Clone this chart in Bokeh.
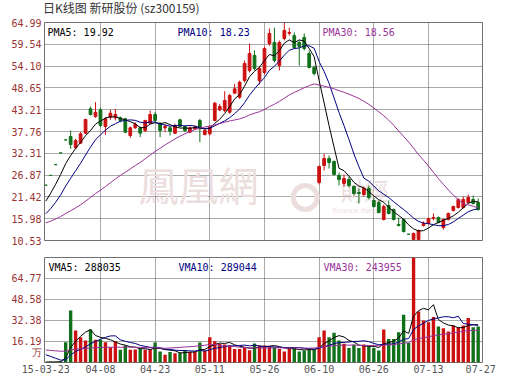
import numpy as np
from bokeh.plotting import figure
from bokeh.layouts import column
from bokeh.models import FixedTicker, Label, Range1d, CustomJSTickFormatter, ColumnDataSource, Div
from bokeh.core.properties import value
from bokeh.embed import file_html
from bokeh.resources import INLINE

# ---------------- data ----------------
x_tick_labels = ["15-03-23", "04-08", "04-23", "05-11", "05-26", "06-10", "06-26", "07-13", "07-27"]
x_tick_pos = [0, 11, 22, 33, 44, 55, 66, 77, 87.5]
price_ticks = [10.53, 15.98, 21.42, 26.87, 32.31, 37.76, 43.21, 48.65, 54.10, 59.54, 64.99]
vol_ticks = [16.19, 32.38, 48.58, 64.77]

# trading days before the window (needed for the moving averages)
pre_close = [13.62, 13.70, 13.75, 13.68, 13.80, 13.85, 13.77, 13.72, 13.81, 13.90,
             13.86, 13.79, 13.74, 13.83, 13.88, 13.80, 13.76, 13.84, 13.91, 13.87,
             13.82, 13.78, 13.85, 13.79, 15.17, 16.69, 18.36, 20.20, 22.22]
pre_vol = [10.5, 9.8, 11.2, 12.0, 10.1, 9.5, 11.8, 12.6, 10.9, 11.4,
           12.2, 10.7, 11.9, 13.1, 12.4, 11.0, 10.3, 12.8, 13.5, 12.1,
           13.8, 14.5, 15.2, 14.1, 0.3, 0.3, 0.4, 0.3, 0.4]

open_ = [24.35, 26.79, 29.47, 32.42, 35.66, 36.51, 33.68, 34.85, 37.34, 43.42,
         41.51, 43.17, 39.01, 41.34, 41.17, 41.17, 40.93, 36.76, 38.68, 38.68,
         38.01, 39.84, 42.01, 39.84, 38.68, 38.68, 37.34, 40.68, 39.01, 37.59,
         38.43, 40.51, 37.01, 37.18, 40.51, 43.17, 43.01, 42.59, 47.34, 46.34,
         50.50, 52.98, 56.75, 50.50, 52.50, 59.75, 60.00, 54.25, 61.00, 62.30,
         61.70, 60.00, 61.25, 57.25, 53.75, 25.02, 29.27, 31.02, 30.27, 26.77,
         24.77, 25.77, 24.02, 22.52, 22.02, 23.52, 20.52, 20.02, 15.78, 19.27,
         18.27, 14.53, 15.78, 12.10, 10.78, 10.78, 14.28, 14.78, 16.03, 16.28,
         13.78, 15.78, 18.03, 18.77, 18.77, 20.02, 20.77, 20.02]
high = [24.35, 26.79, 29.47, 32.42, 35.66, 38.01, 35.93, 37.59, 40.93, 44.00,
        45.09, 43.67, 41.34, 43.17, 43.42, 41.51, 41.17, 39.01, 40.09, 39.01,
        40.68, 43.00, 42.59, 40.09, 39.68, 39.01, 39.68, 40.93, 39.26, 39.01,
        39.26, 40.93, 38.43, 39.26, 45.09, 44.67, 47.84, 47.17, 49.67, 50.50,
        55.50, 59.75, 58.00, 54.00, 59.00, 63.50, 63.70, 60.50, 64.99, 63.70,
        62.50, 60.50, 62.25, 58.00, 54.25, 29.27, 32.26, 31.77, 30.52, 27.52,
        27.02, 26.52, 24.27, 23.52, 24.02, 24.27, 21.27, 20.52, 19.52, 20.52,
        18.52, 16.28, 16.03, 12.10, 12.53, 13.28, 15.28, 16.28, 17.28, 16.53,
        16.03, 17.53, 19.27, 21.02, 21.52, 22.02, 21.77, 21.02]
low = [24.35, 26.79, 29.47, 32.42, 35.66, 33.43, 33.43, 34.68, 37.18, 41.76,
       41.17, 38.84, 36.93, 40.68, 40.51, 40.09, 37.34, 36.18, 38.43, 36.35,
       37.59, 39.68, 40.09, 36.35, 37.59, 36.76, 37.18, 38.84, 37.59, 37.34,
       38.18, 35.09, 36.76, 36.76, 40.34, 42.84, 42.59, 42.17, 47.17, 45.92,
       50.00, 52.50, 53.00, 49.50, 52.00, 59.20, 55.00, 53.00, 60.50, 61.70,
       58.50, 54.25, 58.00, 53.50, 51.75, 24.52, 28.02, 28.52, 26.77, 24.27,
       24.02, 23.77, 21.77, 19.77, 21.52, 20.77, 18.77, 17.28, 15.53, 17.03,
       15.53, 14.03, 12.53, 12.10, 10.53, 10.60, 14.03, 14.53, 15.53, 14.78,
       13.28, 15.53, 17.78, 18.52, 18.52, 19.77, 19.52, 18.03]
close = [24.35, 26.79, 29.47, 32.42, 35.66, 34.51, 35.51, 37.18, 40.76, 42.01,
         42.59, 39.26, 40.93, 42.34, 42.01, 40.51, 37.59, 38.68, 39.51, 37.34,
         40.51, 42.01, 40.51, 38.01, 39.01, 37.84, 39.26, 39.01, 38.01, 38.68,
         38.84, 38.43, 38.01, 38.84, 44.84, 44.00, 45.51, 46.76, 48.42, 50.08,
         54.75, 57.25, 53.50, 53.50, 58.50, 62.25, 55.50, 60.00, 63.00, 62.50,
         58.70, 59.00, 58.50, 53.75, 52.25, 29.02, 31.02, 30.02, 27.02, 25.77,
         26.02, 24.27, 22.27, 22.27, 23.52, 21.27, 19.02, 17.53, 19.02, 17.28,
         15.78, 14.28, 12.78, 12.10, 12.28, 13.03, 14.78, 16.03, 16.28, 15.03,
         15.78, 17.28, 19.02, 20.77, 20.77, 21.27, 19.77, 18.27]
volume = [0.4, 0.5, 0.6, 0.9, 15.7, 40.1, 24.7, 19.5, 17.0, 25.4,
          17.5, 17.5, 15.7, 11.8, 16.4, 9.8, 13.1, 9.8, 10.0, 10.5,
          9.8, 10.0, 15.4, 8.5, 5.9, 8.0, 7.2, 7.5, 9.3, 8.0,
          8.5, 15.4, 9.3, 19.5, 16.4, 14.4, 13.9, 13.1, 10.5, 10.5,
          11.1, 9.5, 14.7, 13.1, 13.1, 12.6, 11.8, 10.5, 8.5, 10.5,
          11.8, 8.5, 9.3, 9.8, 9.8, 19.5, 24.7, 19.5, 22.9, 17.0,
          14.4, 11.1, 13.6, 11.1, 13.9, 12.6, 11.1, 9.3, 25.4, 18.2,
          18.2, 23.4, 36.8, 15.2, 85.0, 39.3, 32.4, 31.1, 35.0, 27.8,
          26.5, 23.9, 28.5, 27.2, 28.5, 34.4, 27.2, 27.8]

legend_price = ["PMA5: 19.92", "PMA10: 18.23", "PMA30: 18.56"]
legend_vol = ["VMA5: 288035", "VMA10: 289044", "VMA30: 243955"]
title_text = "日K线图 新研股份 (sz300159)"

# ---------------- derived ----------------
n = len(close)
idx = np.arange(n)
RED, GREEN = "#cc1010", "#11701a"
colors = [RED if c > o else GREEN for o, c in zip(open_, close)]
body_top = [max(o, c) for o, c in zip(open_, close)]
body_bot = [min(o, c) for o, c in zip(open_, close)]

all_c = np.array(pre_close + close)
all_v = np.array(pre_vol + volume)
m = len(pre_close)

def ma(arr, w):
    return [float(arr[m + i - w + 1: m + i + 1].mean()) for i in range(n)]

src = ColumnDataSource(dict(x=idx, o=open_, h=high, l=low, c=close, v=volume,
                            top=body_top, bot=body_bot, col=colors,
                            ma5=ma(all_c, 5), ma10=ma(all_c, 10), ma30=ma(all_c, 30),
                            vma5=ma(all_v, 5), vma10=ma(all_v, 10), vma30=ma(all_v, 30)))

MONO = "DejaVu Sans Mono"
LBL_RED = "#993333"
XR = Range1d(-0.26, 87.87)

def style(p):
    p.outline_line_color = "#707070"
    p.background_fill_color = "white"
    p.border_fill_color = "white"
    for ax in p.axis:
        ax.axis_line_color = None
        ax.major_tick_line_color = None
        ax.minor_tick_line_color = None
        ax.major_tick_out = 0
        ax.major_tick_in = 0
        ax.minor_tick_out = 0
        ax.major_label_standoff = 3
        ax.major_label_text_font = MONO
        ax.major_label_text_font_size = "10px"
    for g in p.grid:
        g.grid_line_color = "#555555"
        g.grid_line_dash = "1 1"
        g.grid_line_width = 1

# ---------------- title ----------------
title = Div(text=title_text, width=480, height=12, margin=(2, 0, 0, 43),
            styles={"font-family": "Noto Sans CJK SC", "font-size": "12px",
                    "line-height": "12px", "color": "#333333", "white-space": "nowrap"})

# ---------------- price panel ----------------
p = figure(frame_width=438, frame_height=218, x_range=XR, y_range=Range1d(10.53, 64.99),
           x_axis_location=None, output_backend="svg", toolbar_location=None,
           min_border_left=44, min_border_right=48, min_border_top=8, min_border_bottom=8)
style(p)
p.yaxis.ticker = FixedTicker(ticks=price_ticks)
p.yaxis.formatter = CustomJSTickFormatter(code="return tick.toFixed(2)")
p.yaxis.major_label_text_color = LBL_RED
p.ygrid.ticker = FixedTicker(ticks=price_ticks[1:-1])
p.xgrid.ticker = FixedTicker(ticks=x_tick_pos[1:-1])

# watermark
wm = "#ecdede"
p.text(x=[18.65], y=[17.3], text=["鳳凰網"], text_font=value("Noto Sans CJK TC"),
       text_font_size="40px", text_color=wm, text_baseline="bottom")
p.scatter(x=[52.2], y=[21.3], size=24, marker="circle", fill_color=None, line_color=wm, line_width=5)
p.text(x=[59.3], y=[18.8], text=["財經"], text_font=value("Noto Sans CJK TC"),
       text_font_size="24px", text_color=wm, text_baseline="bottom")
p.text(x=[57.7], y=[17.8], text=["finance.ifeng.com"], text_font=value("DejaVu Sans"),
       text_font_size="7px", text_color=wm, text_baseline="middle")

p.segment(x0="x", y0="h", x1="x", y1="l", color="col", line_width=1, source=src)
p.vbar(x="x", width=0.55, top="top", bottom="bot", fill_color="col", line_color="col", source=src)
p.line("x", "ma5", color="black", line_width=1, source=src)
p.line("x", "ma10", color="#000080", line_width=1, source=src)
p.line("x", "ma30", color="#993399", line_width=1, source=src)

for txt, xx, colr in zip(legend_price, [3, 133, 278], ["black", "#000080", "#993399"]):
    p.add_layout(Label(x=xx, y=208, x_units="screen", y_units="screen", text=txt,
                       text_font=MONO, text_font_size="10px", text_color=colr,
                       text_baseline="middle"))

# ---------------- volume panel ----------------
q = figure(frame_width=438, frame_height=105, x_range=XR, y_range=Range1d(0, 80.95),
           output_backend="svg", toolbar_location=None,
           min_border_left=44, min_border_right=48, min_border_top=9, min_border_bottom=21)
style(q)
q.yaxis.ticker = FixedTicker(ticks=[7.7] + vol_ticks)
q.yaxis.formatter = CustomJSTickFormatter(code="return tick < 10 ? '万' : tick.toFixed(2)")
q.yaxis.major_label_text_color = LBL_RED
q.ygrid.ticker = FixedTicker(ticks=vol_ticks)
q.xgrid.ticker = FixedTicker(ticks=x_tick_pos[1:-1])
q.xaxis.ticker = FixedTicker(ticks=x_tick_pos)
q.xaxis.formatter = CustomJSTickFormatter(args=dict(labels=x_tick_labels), code="return labels[index]")
q.xaxis.major_label_text_color = "#555555"
q.xaxis.major_label_standoff = 2

q.vbar(x="x", width=0.68, top="v", bottom=0, fill_color="col", line_color=None, source=src)
q.line("x", "vma5", color="black", line_width=1, source=src)
q.line("x", "vma10", color="#000080", line_width=1, source=src)
q.line("x", "vma30", color="#993399", line_width=1, source=src)
for txt, xx, colr in zip(legend_vol, [4, 134, 279], ["black", "#000080", "#993399"]):
    q.add_layout(Label(x=xx, y=95, x_units="screen", y_units="screen", text=txt,
                       text_font=MONO, text_font_size="10px", text_color=colr,
                       text_baseline="middle"))

layout = column(title, p, q, spacing=0)
open("out.html", "w").write(file_html(layout, INLINE))
